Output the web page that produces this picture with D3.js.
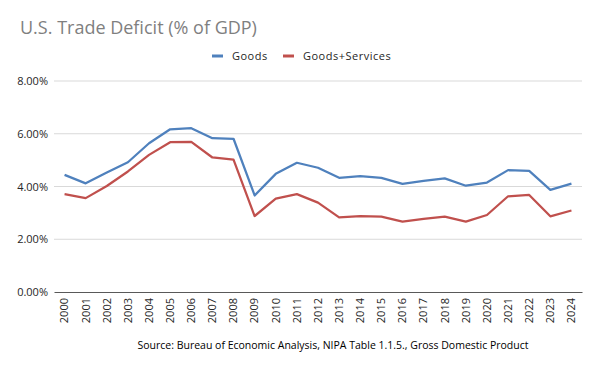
<!DOCTYPE html>
<html>
<head>
<meta charset="utf-8">
<script src="https://cdn.jsdelivr.net/npm/d3@7"></script>
<style>
  body { margin: 0; background: #fff; }
  text { font-family: "Open Sans", "DejaVu Sans", sans-serif; }
</style>
</head>
<body>
<div id="chart"></div>
<script>
// data
var years = ["2000","2001","2002","2003","2004","2005","2006","2007","2008","2009","2010","2011","2012",
             "2013","2014","2015","2016","2017","2018","2019","2020","2021","2022","2023","2024"];
var goods = [4.44,4.12,4.53,4.92,5.64,6.17,6.21,5.83,5.81,3.66,4.48,4.90,4.71,
             4.33,4.39,4.33,4.10,4.21,4.31,4.03,4.15,4.62,4.59,3.87,4.11];
var goodsServices = [3.71,3.56,4.02,4.57,5.20,5.68,5.69,5.10,5.02,2.88,3.54,3.71,3.39,
                     2.83,2.88,2.86,2.67,2.77,2.86,2.67,2.92,3.63,3.68,2.87,3.09];
var yTicks = [0, 2, 4, 6, 8];
var seriesNames = ["Goods", "Goods+Services"];
var colors = ["#4f81bd", "#c0504d"];

var W = 600, H = 371;
var margin = {top: 81, right: 18, bottom: 79, left: 54};
var width = W - margin.left - margin.right,
    height = H - margin.top - margin.bottom;

var svg = d3.select("#chart").append("svg")
  .attr("width", W).attr("height", H);

// title
svg.append("text")
  .attr("x", 20).attr("y", 34)
  .attr("font-size", "18px")
  .attr("fill", "#7f7f7f")
  .text("U.S. Trade Deficit (% of GDP)");

var g = svg.append("g")
  .attr("transform", "translate(" + margin.left + "," + margin.top + ")");

var x = d3.scaleBand().domain(years).range([0, width]);
var y = d3.scaleLinear().domain([0, 8]).range([height, 0]);

// gridlines
g.append("g")
  .selectAll("line").data(yTicks.filter(function(d){ return d > 0; })).enter()
  .append("line")
  .attr("x1", 0).attr("x2", width)
  .attr("y1", function(d){ return y(d); }).attr("y2", function(d){ return y(d); })
  .style("stroke", "#d9d9d9").style("stroke-width", 1);

// y axis labels
var yAxis = g.append("g")
  .call(d3.axisLeft(y).tickValues(yTicks).tickSize(0).tickPadding(6)
    .tickFormat(function(d){ return d.toFixed(2) + "%"; }));
yAxis.select(".domain").remove();
yAxis.selectAll("text").attr("font-size", "11px").attr("fill", "#262626")
  .style("font-family", "'Open Sans', sans-serif");

// x axis
var xAxis = g.append("g")
  .attr("transform", "translate(0," + height + ")")
  .call(d3.axisBottom(x).tickSize(0).tickPadding(0));
xAxis.select(".domain").style("stroke", "#595959").style("stroke-width", 1.2);
xAxis.selectAll("text")
  .attr("font-size", "11px").attr("fill", "#262626")
  .style("font-family", "'Open Sans', sans-serif")
  .attr("transform", "rotate(-90)")
  .attr("text-anchor", "end")
  .attr("x", -6).attr("y", 0).attr("dy", "0.35em");

// lines
var line = d3.line()
  .x(function(d, i){ return x(years[i]) + x.bandwidth() / 2; })
  .y(function(d){ return y(d); });

[goods, goodsServices].forEach(function(s, k){
  g.append("path")
    .datum(s)
    .attr("d", line)
    .style("fill", "none")
    .style("stroke", colors[k])
    .style("stroke-width", 2.25)
    .style("stroke-linejoin", "round");
});

// legend
var legendX = [212, 283];
var legend = svg.append("g").selectAll("g").data(seriesNames).enter()
  .append("g")
  .attr("transform", function(d, i){ return "translate(" + legendX[i] + ",56)"; });
legend.append("line")
  .attr("x1", 0).attr("x2", 11).attr("y1", 0).attr("y2", 0)
  .style("stroke", function(d, i){ return colors[i]; })
  .style("stroke-width", 3);
legend.append("text")
  .attr("x", 20).attr("y", 0).attr("dy", "0.35em")
  .attr("font-size", "11px").attr("fill", "#262626")
  .attr("letter-spacing", "0.5px")
  .text(function(d){ return d; });

// source
svg.append("text")
  .attr("x", 333).attr("y", 349)
  .attr("text-anchor", "middle")
  .attr("font-size", "10.5px").attr("fill", "#000")
  .text("Source: Bureau of Economic Analysis, NIPA Table 1.1.5., Gross Domestic Product");
</script>
</body>
</html>
